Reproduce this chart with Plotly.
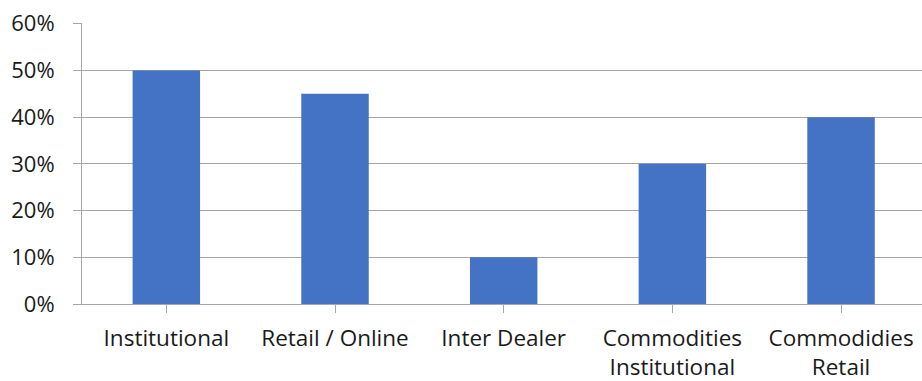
import plotly.graph_objects as go

# Share of volume by market segment
categories = ["Institutional", "Retail / Online", "Inter Dealer",
              "Commodities<br>Institutional", "Commodidies<br>Retail"]
shares = [0.50, 0.45, 0.10, 0.30, 0.40]
y_ticks = [0, 0.1, 0.2, 0.3, 0.4, 0.5, 0.6]
y_tick_labels = ["0%", "10%", "20%", "30%", "40%", "50%", "60%"]

bar_color = "#4472C4"
line_color = "#A6A6A6"
font_family = "'Open Sans', sans-serif"

fig = go.Figure(
    go.Bar(
        x=list(range(len(categories))),
        y=shares,
        marker=dict(color=bar_color, line=dict(width=0)),
        hoverinfo="skip",
    )
)

fig.update_layout(
    width=922,
    height=381,
    margin=dict(l=82, r=0, t=23, b=77),
    paper_bgcolor="white",
    plot_bgcolor="white",
    bargap=0.6,
    showlegend=False,
    font=dict(family=font_family, size=22, color="#1a1a1a"),
)

fig.update_xaxes(
    tickmode="array",
    tickvals=list(range(len(categories))),
    ticktext=categories,
    range=[-0.5, 4.48],
    tickson="boundaries",
    ticks="outside",
    ticklen=8,
    tickcolor=line_color,
    showline=True,
    linecolor=line_color,
    linewidth=1,
    showgrid=False,
    zeroline=False,
    tickfont=dict(size=22.5),
    ticklabelstandoff=6,
)

fig.update_yaxes(
    tickmode="array",
    tickvals=y_ticks,
    ticktext=y_tick_labels,
    range=[0, 0.6015],
    ticks="outside",
    ticklen=8,
    tickcolor=line_color,
    showline=True,
    linecolor=line_color,
    linewidth=1,
    showgrid=True,
    gridcolor=line_color,
    gridwidth=1,
    zeroline=False,
    tickfont=dict(size=22),
    ticklabelstandoff=14,
)

fig.write_html("out.html")
